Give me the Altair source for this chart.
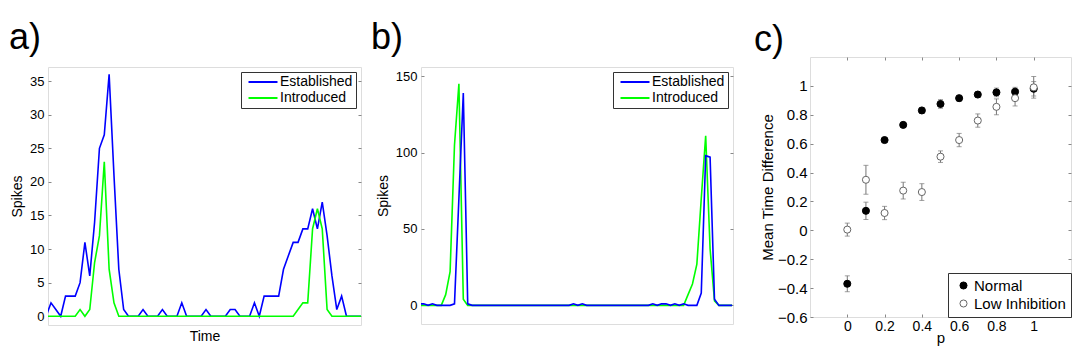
import altair as alt
import pandas as pd

FONT = "Liberation Sans"
BLUE = "#0000ff"
GREEN = "#00ff00"
EDGE = "#333333"
ERRGRAY = "#777777"

series_names = ["Established", "Introduced"]

# ---- panel a ----
a_time = [0, 1, 2, 3, 4, 5, 6, 7, 8, 9, 10, 11, 12, 13, 14, 15, 16, 17, 18, 19, 20,
          21, 22, 23, 24, 25, 26, 27, 28, 29, 30, 31, 32, 33, 34, 35, 36, 37, 38, 39, 40,
          41, 42, 43, 44, 45, 46, 47, 48, 49, 50, 51, 52, 53, 54, 55, 56, 57, 58, 59, 60,
          61, 62, 63, 64, 65]
a_established = [0, 2, 1, 0, 3, 3, 3, 5, 11, 6, 14, 25, 27, 36, 21, 7, 1, 0, 0, 0, 1,
                 0, 0, 0, 1, 0, 0, 0, 2, 0, 0, 0, 0, 1, 0, 0, 0, 0, 1, 1, 0,
                 0, 0, 2, 0, 3, 3, 3, 3, 7, 9, 11, 11, 13, 13, 16, 13, 17, 12, 6, 1,
                 3, 0, 0, 0, 0]
a_introduced = [0, 0, 0, 0, 0, 0, 0, 1, 0, 1, 8, 12, 23, 7, 2, 0, 0, 0, 0, 0, 0,
                0, 0, 0, 0, 0, 0, 0, 0, 0, 0, 0, 0, 0, 0, 0, 0, 0, 0, 0, 0,
                0, 0, 0, 0, 0, 0, 0, 0, 0, 0, 0, 1, 2, 2, 13, 16, 13, 1, 0, 0,
                0, 0, 0, 0, 0]
a_yticks = [0, 5, 10, 15, 20, 25, 30, 35]

# ---- panel b ----
b_time = [0, 1, 2, 3, 4, 5, 6, 7, 8, 9, 10, 11, 12, 13, 14, 15, 16, 17, 18, 19, 20,
          21, 22, 23, 24, 25, 26, 27, 28, 29, 30, 31, 32, 33, 34, 35, 36, 37, 38, 39, 40,
          41, 42, 43, 44, 45, 46, 47, 48, 49, 50, 51, 52, 53, 54, 55, 56, 57, 58, 59, 60,
          61, 62, 63, 64, 65, 66, 67, 68, 69, 70, 71]
b_established = [1, 1, 0, 1, 0, 0, 0, 0, 1, 70, 139, 1, 0, 0, 0, 0, 0, 0, 0, 0, 0,
                 0, 0, 0, 0, 0, 0, 0, 0, 0, 0, 0, 0, 0, 0, 1, 0, 1, 0, 0, 0,
                 0, 0, 0, 0, 0, 0, 0, 0, 0, 0, 0, 0, 1, 0, 1, 1, 0, 1, 0, 1,
                 0, 0, 0, 8, 98, 97, 4, 0, 0, 0, 0]
b_introduced = [0, 0, 0, 0, 0, 0, 7, 22, 105, 145, 4, 0, 0, 0, 0, 0, 0, 0, 0, 0, 0,
                0, 0, 0, 0, 0, 0, 0, 0, 0, 0, 0, 0, 0, 0, 0, 0, 0, 0, 0, 0,
                0, 0, 0, 0, 0, 0, 0, 0, 0, 0, 0, 0, 0, 0, 0, 0, 0, 0, 0, 0,
                7, 14, 27, 70, 111, 37, 3, 0, 0, 0, 0]
b_yticks = [0, 50, 100, 150]

# ---- panel c ----
c_series = ["Normal", "Low Inhibition"]
c_p = [0.0, 0.1, 0.2, 0.3, 0.4, 0.5, 0.6, 0.7, 0.8, 0.9, 1.0]
c_normal_mean = [-0.37, 0.135, 0.625, 0.73, 0.83, 0.875, 0.915, 0.94, 0.955, 0.96, 0.98]
c_normal_err = [0.055, 0.06, 0.015, 0.015, 0.02, 0.03, 0.02, 0.02, 0.03, 0.03, 0.05]
c_low_mean = [0.005, 0.35, 0.12, 0.275, 0.265, 0.51, 0.625, 0.76, 0.855, 0.915, 0.99]
c_low_err = [0.045, 0.1, 0.046, 0.058, 0.058, 0.04, 0.046, 0.046, 0.055, 0.054, 0.075]
c_xticks = [0, 0.2, 0.4, 0.6, 0.8, 1]
c_yticks = [-0.6, -0.4, -0.2, 0, 0.2, 0.4, 0.6, 0.8, 1]

TITLE_OFFSET = -2


def panel_title(label, dx):
    return alt.TitleParams(label, anchor="start", frame="group", fontSize=36,
                           font=FONT, fontWeight="normal", color="black",
                           dx=dx, offset=TITLE_OFFSET)


def spacer(width, height, label, dx):
    return (
        alt.Chart(pd.DataFrame({"s": [""]}))
        .mark_text(opacity=0)
        .encode(text="s:N")
        .properties(width=width, height=height, title=panel_title(label, dx),
                    view=alt.ViewBackground(stroke="transparent"))
    )


def long_df(t, est, intro):
    return pd.DataFrame({
        "t": list(t) + list(t),
        "v": list(est) + list(intro),
        "series": [series_names[0]] * len(t) + [series_names[1]] * len(t),
    })


def line_panel(df, xdom, ydom, yticks, xtitle, width, height, legend_offset, order):
    xs = alt.Scale(domain=xdom, nice=False, zero=False)
    ys = alt.Scale(domain=ydom, nice=False, zero=False)
    color = alt.Color(
        "series:N",
        scale=alt.Scale(domain=series_names, range=[BLUE, GREEN]),
        legend=alt.Legend(
            title=None, orient="top-right", offset=legend_offset, padding=3,
            strokeColor=EDGE, fillColor="white", symbolType="M-2.9,0H2.9",
            symbolSize=100, symbolStrokeWidth=2, symbolOffset=12, labelOffset=10,
            labelFontSize=14, labelFont=FONT, labelColor="black", rowPadding=2,
        ),
    )
    if xtitle:
        x_axis = alt.Axis(title=xtitle, labels=False, ticks=False, domain=False,
                          grid=False, titlePadding=4, titleFontSize=14,
                          titleFont=FONT, titleFontWeight="normal", titleColor="black")
    else:
        x_axis = None
    y_left = alt.Axis(values=yticks, title="Spikes", offset=-3, tickSize=3,
                      labelPadding=4, titlePadding=5, labelFontSize=13,
                      titleFontSize=14, titleFontWeight="normal", domain=False, grid=False)
    y_right = alt.Axis(orient="right", values=yticks, labels=False, title="",
                       offset=-3, tickSize=3, domain=False, grid=False)
    layers = []
    for i, name in enumerate(order):
        layers.append(
            alt.Chart(df)
            .transform_filter(alt.datum.series == name)
            .mark_line(strokeWidth=1.6, clip=True)
            .encode(
                x=alt.X("t:Q", scale=xs, axis=x_axis if i == 0 else None),
                y=alt.Y("v:Q", scale=ys, axis=y_left if i == 0 else y_right),
                color=color,
            )
        )
    return (
        alt.layer(*layers)
        .resolve_axis(x="independent", y="independent")
        .properties(width=width, height=height)
    )


df_a = long_df(a_time, a_established, a_introduced)
df_b = long_df(b_time, b_established, b_introduced)

chart_a = line_panel(df_a, [0.38, 65], [-1.3, 37.1], a_yticks, "Time", 313, 258,
                     5, [series_names[0], series_names[1]])
chart_b = line_panel(df_b, [0.4, 71.2], [-12.2, 156], b_yticks, None, 312, 257,
                     5, [series_names[1], series_names[0]])

col_a = (alt.vconcat(spacer(313, 7, "a)", -39), chart_a, spacing=0)
         .resolve_scale(color="independent").resolve_legend(color="independent"))
col_b = (alt.vconcat(spacer(312, 7, "b)", -50), chart_b, spacing=0)
         .resolve_scale(color="independent").resolve_legend(color="independent"))

# ---- panel c ----
df_c = pd.DataFrame({
    "p": c_p + c_p,
    "m": c_normal_mean + c_low_mean,
    "e": c_normal_err + c_low_err,
    "series": [c_series[0]] * len(c_p) + [c_series[1]] * len(c_p),
})
cxs = alt.Scale(domain=[-0.2, 1.2], nice=False, zero=False)
cys = alt.Scale(domain=[-0.6, 1.2], nice=False, zero=False)
base_c = alt.Chart(df_c).transform_calculate(lo="datum.m - datum.e", hi="datum.m + datum.e")

x_bottom = alt.Axis(values=c_xticks, format="~g", title="p", offset=-3, tickSize=3,
                    labelPadding=2, titlePadding=-3, labelFontSize=14, titleFontSize=15,
                    titleFontWeight="normal", domain=False, grid=False)
y_left_c = alt.Axis(values=c_yticks, format="~g", title="Mean Time Difference", offset=-3,
                    tickSize=3, labelPadding=3, titlePadding=2, labelFontSize=15,
                    titleFontSize=15, titleFontWeight="normal", domain=False, grid=False)
x_top = alt.Axis(orient="top", values=c_xticks, labels=False, title="", offset=-3,
                 tickSize=3, domain=False, grid=False)
y_right_c = alt.Axis(orient="right", values=c_yticks, labels=False, title="", offset=-3,
                     tickSize=3, domain=False, grid=False)

rules = base_c.mark_rule(color=ERRGRAY, strokeWidth=1).encode(
    x=alt.X("p:Q", scale=cxs, axis=x_bottom),
    y=alt.Y("lo:Q", scale=cys, axis=y_left_c),
    y2="hi:Q",
)
caps_lo = base_c.mark_tick(orient="horizontal", size=5, thickness=1, color=ERRGRAY).encode(
    x=alt.X("p:Q", scale=cxs, axis=x_top),
    y=alt.Y("lo:Q", scale=cys, axis=y_right_c),
)
caps_hi = base_c.mark_tick(orient="horizontal", size=5, thickness=1, color=ERRGRAY).encode(
    x=alt.X("p:Q", scale=cxs, axis=None),
    y=alt.Y("hi:Q", scale=cys, axis=None),
)
c_legend = alt.Legend(title=None, orient="bottom-right", offset=0, padding=5,
                      strokeColor=EDGE, fillColor="white", symbolSize=50,
                      symbolStrokeWidth=1, symbolOffset=3, labelOffset=3,
                      labelFontSize=15, labelFont=FONT, labelColor="black", rowPadding=2)
points = base_c.mark_point(size=50, strokeWidth=1, opacity=1).encode(
    x=alt.X("p:Q", scale=cxs, axis=None),
    y=alt.Y("m:Q", scale=cys, axis=None),
    fill=alt.Fill("series:N", scale=alt.Scale(domain=c_series, range=["black", "white"]),
                  legend=c_legend),
    stroke=alt.Stroke("series:N", scale=alt.Scale(domain=c_series, range=["black", "#666666"]),
                      legend=c_legend),
)
chart_c = (
    alt.layer(rules, caps_lo, caps_hi, points)
    .resolve_axis(x="independent", y="independent")
    .properties(width=261, height=260, title=panel_title("c)", -56))
)

inner = (alt.hconcat(col_a, col_b, spacing=8)
         .resolve_scale(color="independent").resolve_legend(color="independent"))
chart = (
    alt.hconcat(inner, chart_c, spacing=19)
    .resolve_scale(color="independent", fill="independent", stroke="independent")
    .resolve_legend(color="independent", fill="independent", stroke="independent")
    .properties(padding={"left": 0, "top": 11, "right": 0, "bottom": 0})
    .configure_view(stroke=EDGE, strokeWidth=1)
    .configure_axis(labelFont=FONT, titleFont=FONT, labelColor="black", titleColor="black",
                    titleFontWeight="normal", tickColor=EDGE)
    .configure(background="white")
)

chart.save("out.html", embed_options={"renderer": "svg", "actions": False})
